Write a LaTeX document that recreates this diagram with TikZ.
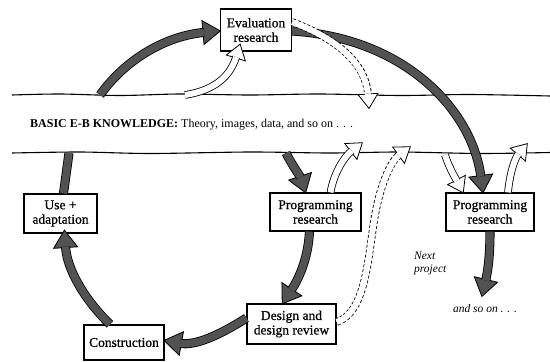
\documentclass[tikz,border=0pt]{standalone}
\usepackage{fontspec}
\setmainfont{Liberation Serif}
\newfontfamily\boxfont{Liberation Serif}[FakeBold=0.7]
\usetikzlibrary{decorations.markings}
\definecolor{darkfill}{gray}{0.32}
\begin{document}
\begin{tikzpicture}[x=1pt,y=-1pt,
  box/.style={draw=black, line width=1.2pt, fill=white, align=center, inner sep=0pt,
    font=\boxfont\fontsize{13.5}{14.5}\selectfont},
  band/.style={line width=1.1pt},
  headD/.style={preaction={decorate,decoration={markings,mark=at position 0.9999 with {
    \filldraw[fill=darkfill,draw=black,line width=0.8pt,solid,shorten >=0pt,shorten <=0pt]
      (0.5pt,0pt) -- (-17pt,12pt) -- (-17pt,-12pt) -- cycle;}}}},
  headW/.style={preaction={decorate,decoration={markings,mark=at position 0.9999 with {
    \filldraw[fill=white,draw=black,line width=0.8pt,solid,shorten >=0pt,shorten <=0pt]
      (0.5pt,0pt) -- (-14pt,10pt) -- (-14pt,-10pt) -- cycle;}}}},
  darr/.style={headD, draw=black, line width=0.8pt, double=darkfill, double distance=7.5pt, shorten >=16pt},
  dstem/.style={draw=black, line width=0.8pt, double=darkfill, double distance=7.5pt},
  warr/.style={headW, draw=black, line width=0.8pt, double=white, double distance=6pt, shorten >=13pt},
  wdarr/.style={draw=black, line width=7.6pt, dash pattern=on 3pt off 2pt, shorten >=13pt,
    postaction={draw=white, solid, line width=6pt, shorten >=12pt, shorten <=0pt},
    postaction={decorate,decoration={markings,mark=at position 0.9999 with {
    \filldraw[fill=white,draw=black,line width=0.8pt,solid,shorten >=0pt,shorten <=0pt]
      (0.5pt,0pt) -- (-14pt,10pt) -- (-14pt,-10pt) -- cycle;
    \fill[white] (-14.5pt,2.9pt) rectangle (-13pt,-2.9pt);}}}},
  lbl/.style={font=\fontsize{12}{13}\selectfont, inner sep=0pt},
  ilbl/.style={font=\fontsize{11.5}{12.5}\selectfont\itshape, inner sep=0pt, align=left}
]
\useasboundingbox (0,0) rectangle (550,362);

% knowledge band
\draw[band] plot[smooth] coordinates {(12,95) (60,94) (120,95.5) (180,94) (250,95) (320,94) (400,95.5) (470,94.5) (550,96)};
\draw[band] plot[smooth] coordinates {(12,153) (80,152) (150,153.5) (250,152) (330,153) (400,152) (480,153.5) (550,152.5)};
\node[lbl, anchor=west] (bandtext) at (30,125) {\textbf{BASIC E-B KNOWLEDGE:} Theory, images, data, and so on . . .};

% boxes
\node[box, minimum width=71pt, minimum height=42pt] (eval) at (256,30) {Evaluation\\research};
\node[box, minimum width=73pt, minimum height=39pt] (use) at (60.5,213.5) {Use +\\adaptation};
\node[box, minimum width=80pt, minimum height=35pt] (cons) at (124,342.5) {Construction};
\node[box, minimum width=91pt, minimum height=38pt] (prog1) at (315.5,212) {Programming\\research};
\node[box, minimum width=88pt, minimum height=38pt] (prog2) at (490,212) {Programming\\research};
\node[box, minimum width=89pt, minimum height=40pt] (des) at (291.5,324) {Design and\\design review};

% free ends on the band lines
\coordinate (u1) at (100,95);
\coordinate (u2) at (185,95);
\coordinate (l1) at (69,153);
\coordinate (l2) at (286,153);
\coordinate (l3) at (445,155);
\coordinate (t1) at (369,108);
\coordinate (t2) at (410,147);
\coordinate (t3) at (362,143);
\coordinate (t4) at (527,144);
\coordinate (t5) at (482,296);

% labels
\node[ilbl, anchor=north west] (next) at (414,252) {Next\\project};
\node[ilbl] (andso) at (485,309) {and so on . . .};

% dark arrows
\draw[dstem] ([xshift=3pt]use.north) -- (l1);
\draw[darr] (u1) .. controls (125,60) and (165,36) .. ([yshift=-1pt]eval.west);
\draw[darr] ([yshift=-1pt]eval.east) .. controls (405,38) and (472,110) .. ([xshift=-7pt]prog2.north);
\draw[darr] (l2) .. controls (292,165) and (300,176) .. ([xshift=-10pt]prog1.north);
\draw[darr] ([xshift=-6pt]prog1.south) .. controls (308,260) and (298,280) .. ([xshift=-9pt]des.north);
\draw[darr] ([yshift=6pt]des.west) .. controls (220,335) and (195,346) .. ([yshift=2pt]cons.east);
\draw[darr] ([xshift=-14pt]cons.north) .. controls (85,300) and (67,270) .. ([xshift=4pt,yshift=3pt]use.south);
\draw[darr] (prog2.south) .. controls (490,260) and (487,275) .. (t5);

% white arrows
\draw[warr] (u2) .. controls (210,91) and (229,80) .. ([xshift=-16pt,yshift=7pt]eval.south);
\draw[warr] ([xshift=15pt]prog1.north) .. controls (334,172) and (345,156) .. (t3);
\draw[warr] (l3) .. controls (450,170) and (456,179) .. ([xshift=-27pt]prog2.north);
\draw[warr] ([xshift=18pt]prog2.north) .. controls (510,172) and (515,158) .. (t4);

% dashed white arrows
\draw[wdarr] ([yshift=8pt]eval.east) .. controls (340,40) and (366,65) .. (t1);
\draw[wdarr] ([yshift=2pt]des.east) .. controls (368,312) and (368,250) .. (376,210)
  .. controls (382,180) and (392,160) .. (t2);
\end{tikzpicture}
\end{document}
